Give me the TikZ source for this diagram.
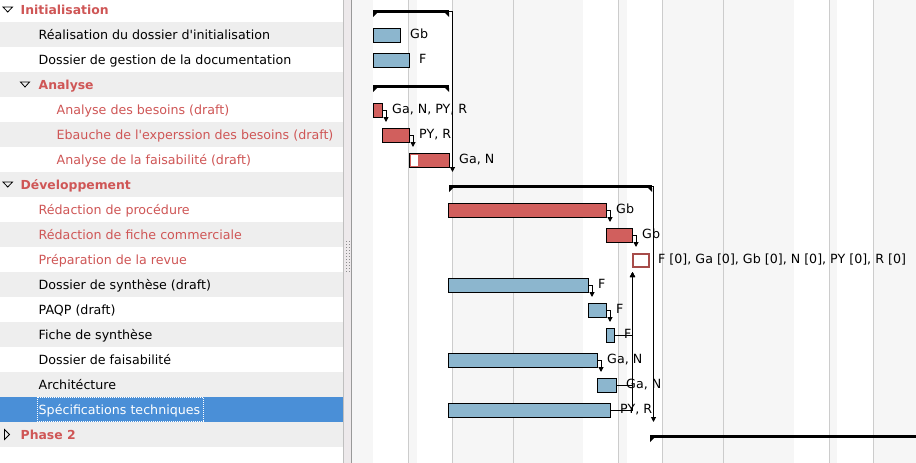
\documentclass[tikz,border=0pt]{standalone}
\usepackage{fontspec}
\setmainfont{DejaVu Sans}
\usetikzlibrary{calc,arrows.meta}
\definecolor{rowgray}{HTML}{EEEEEE}
\definecolor{chartgray}{HTML}{F6F6F6}
\definecolor{gridgray}{HTML}{CCCCCC}
\definecolor{selblue}{HTML}{4A8FD7}
\definecolor{taskred}{HTML}{CF5656}
\definecolor{barred}{HTML}{D15F5D}
\definecolor{barblue}{HTML}{8CB6CE}
\definecolor{splitgray}{HTML}{EDE9EB}

\begin{document}
\begin{tikzpicture}[x=1pt,y=-1pt,
  txt/.style={anchor=base west,inner sep=0pt,font=\fontsize{12.65}{14}\selectfont},
  redtxt/.style={txt,text=taskred},
  head/.style={txt,text=taskred,font=\fontsize{12.4}{14}\selectfont\bfseries},
  bluebar/.style={anchor=north west,draw=black,fill=barblue,line width=1pt,minimum height=14pt,inner sep=0pt,outer sep=0pt},
  redbar/.style={bluebar,fill=barred},
  summary/.style={anchor=north west,fill=black,minimum height=3pt,inner sep=0pt,outer sep=0pt},
  dep/.style={-{Triangle[length=5pt,width=5pt]},line width=1pt}]
\useasboundingbox (0,0) rectangle (916,463);

% tree panel
\fill[white] (0,0) rectangle (343,463);
\fill[rowgray] (0,22) rectangle (343,47);
\fill[rowgray] (0,72) rectangle (343,97);
\fill[rowgray] (0,122) rectangle (343,147);
\fill[rowgray] (0,172) rectangle (343,197);
\fill[rowgray] (0,222) rectangle (343,247);
\fill[rowgray] (0,272) rectangle (343,297);
\fill[rowgray] (0,322) rectangle (343,347);
\fill[rowgray] (0,372) rectangle (343,397);
\fill[selblue] (0,397) rectangle (343,422);
\fill[rowgray] (0,422) rectangle (343,447);

\draw[line width=0.8pt] (3,7) -- (12.5,7) -- (7.75,12) -- cycle;
\draw[line width=0.8pt] (20.5,82) -- (29.5,82) -- (25,87) -- cycle;
\draw[line width=0.8pt] (3,182) -- (12.5,182) -- (7.75,187) -- cycle;
\draw[line width=0.8pt] (4.5,429.5) -- (9.5,434.5) -- (4.5,439.5) -- cycle;

\node[head] (t0) at (20.5,14) {Initialisation};
\node[txt] (t1) at (38.5,39) {Réalisation du dossier d\textquotesingle initialisation};
\node[txt] (t2) at (38.5,64) {Dossier de gestion de la documentation};
\node[head] (t3) at (38.5,89) {Analyse};
\node[redtxt] (t4) at (56.5,114) {Analyse des besoins (draft)};
\node[redtxt] (t5) at (56.5,139) {Ebauche de l\textquotesingle experssion des besoins (draft)};
\node[redtxt] (t6) at (56.5,164) {Analyse de la faisabilité (draft)};
\node[head] (t7) at (20.5,189) {Développement};
\node[redtxt] (t8) at (38.5,214) {Rédaction de procédure};
\node[redtxt] (t9) at (38.5,239) {Rédaction de fiche commerciale};
\node[redtxt] (t10) at (38.5,264) {Préparation de la revue};
\node[txt] (t11) at (38.5,289) {Dossier de synthèse (draft)};
\node[txt] (t12) at (38.5,314) {PAQP (draft)};
\node[txt] (t13) at (38.5,339) {Fiche de synthèse};
\node[txt] (t14) at (38.5,364) {Dossier de faisabilité};
\node[txt] (t15) at (38.5,389) {Architécture};
\node[txt,text=white] (t16) at (38.5,414) {Spécifications techniques};
\node[head] (t17) at (20.5,439) {Phase 2};
\draw[white,dash pattern=on 1pt off 1pt] ($(t16.north west)+(-1.5,-6.5)$) rectangle ($(t16.south east)+(3,4)$);

% splitter
\fill[splitgray] (343,0) rectangle (351,463);
\draw[black!25] (343.5,0) -- (343.5,463);
\draw[black!40] (351.5,0) -- (351.5,463);
\foreach \gy in {241,244,...,271} {
  \fill[black!45] (346,\gy) rectangle ++(1,1);
  \fill[black!45] (349,\gy) rectangle ++(1,1);
}

% chart background
\fill[chartgray] (352,0) rectangle (916,463);
\fill[white] (373,0) rectangle (408,463);
\fill[white] (417,0) rectangle (452,463);
\fill[white] (583,0) rectangle (618,463);
\fill[white] (627,0) rectangle (662,463);
\fill[white] (794,0) rectangle (829,463);
\fill[white] (837,0) rectangle (873,463);
\draw[gridgray] (408.5,0) -- (408.5,463);
\draw[gridgray] (452.5,0) -- (452.5,463);
\draw[gridgray] (513.5,0) -- (513.5,463);
\draw[gridgray] (618.5,0) -- (618.5,463);
\draw[gridgray] (662.5,0) -- (662.5,463);
\draw[gridgray] (723.5,0) -- (723.5,463);
\draw[gridgray] (829.5,0) -- (829.5,463);
\draw[gridgray] (873.5,0) -- (873.5,463);

% summaries
\node[summary,minimum width=76pt] (s0) at (373,10) {};
\node[summary,minimum width=76pt] (s3) at (373,85) {};
\node[summary,minimum width=203pt] (s7) at (449,185) {};
\node[summary,minimum width=280pt] (s17) at (650,435) {};
\fill (s0.south west) -- ++(4,0) -- ++(-4,4) -- cycle;
\fill (s0.south east) -- ++(-4,0) -- ++(4,4) -- cycle;
\fill (s3.south west) -- ++(4,0) -- ++(-4,4) -- cycle;
\fill (s3.south east) -- ++(-4,0) -- ++(4,4) -- cycle;
\fill (s7.south west) -- ++(4,0) -- ++(-4,4) -- cycle;
\fill (s7.south east) -- ++(-4,0) -- ++(4,4) -- cycle;
\fill (s17.south west) -- ++(4,0) -- ++(-4,4) -- cycle;

% tasks
\node[bluebar,minimum width=27pt] (b1) at (373.5,28.5) {};
\node[bluebar,minimum width=36pt] (b2) at (373.5,53.5) {};
\node[redbar,minimum width=9pt] (b4) at (373.5,103.5) {};
\node[redbar,minimum width=27pt] (b5) at (382.5,128.5) {};
\node[redbar,minimum width=40pt] (b6) at (409.5,153.5) {};
\fill[white] ($(b6.north west)+(1,1.5)$) rectangle ($(b6.south west)+(8,-1.5)$);
\node[redbar,minimum width=158pt] (b8) at (448.5,203.5) {};
\node[redbar,minimum width=26pt] (b9) at (606.5,228.5) {};
\node[anchor=north west,draw=barred!80!black,fill=white,line width=2pt,outer sep=0pt,minimum width=16pt,minimum height=13pt,inner sep=0pt] (m10) at (633,254) {};
\node[bluebar,minimum width=140pt] (b11) at (448.5,278.5) {};
\node[bluebar,minimum width=18pt] (b12) at (588.5,303.5) {};
\node[bluebar,minimum width=8pt] (b13) at (606.5,328.5) {};
\node[bluebar,minimum width=149pt] (b14) at (448.5,353.5) {};
\node[bluebar,minimum width=19pt] (b15) at (597.5,378.5) {};
\node[bluebar,minimum width=162pt] (b16) at (448.5,403.5) {};

% resource labels
\node[txt] (l1) at ($(b1.north east)+(9.5,9.5)$) {Gb};
\node[txt] (l2) at ($(b2.north east)+(9.5,9.5)$) {F};
\node[txt] (l4) at ($(b4.north east)+(9.5,9.5)$) {Ga, N, PY, R};
\node[txt] (l5) at ($(b5.north east)+(9.5,9.5)$) {PY, R};
\node[txt] (l6) at ($(b6.north east)+(9.5,9.5)$) {Ga, N};
\node[txt] (l8) at ($(b8.north east)+(9.5,9.5)$) {Gb};
\node[txt] (l9) at ($(b9.north east)+(9.5,9.5)$) {Gb};
\node[txt] (l10) at ($(m10.north east)+(9,9)$) {F [0], Ga [0], Gb [0], N [0], PY [0], R [0]};
\node[txt] (l11) at ($(b11.north east)+(9.5,9.5)$) {F};
\node[txt] (l12) at ($(b12.north east)+(9.5,9.5)$) {F};
\node[txt] (l13) at ($(b13.north east)+(9.5,9.5)$) {F};
\node[txt] (l14) at ($(b14.north east)+(9.5,9.5)$) {Ga, N};
\node[txt] (l15) at ($(b15.north east)+(9.5,9.5)$) {Ga, N};
\node[txt] (l16) at ($(b16.north east)+(9.5,9.5)$) {PY, R};

% dependencies
\draw[dep] (s0.east) -| ($(s0.east |- s7.north)+(3.5,-13)$);
\draw[dep] (s7.east) -| ($(s7.east |- s17.north)+(1.5,-13)$);
\draw[dep] (b4.east) -| ($(b4.east |- b5.north)+(3.5,-6.5)$);
\draw[dep] (b5.east) -| ($(b5.east |- b6.north)+(3.5,-6.5)$);
\draw[dep] (b8.east) -| ($(b8.east |- b9.north)+(3.5,-6.5)$);
\draw[dep] (b9.east) -| ($(b9.east |- m10.north)+(3.5,-7)$);
\draw[dep] (b11.east) -| ($(b11.east |- b12.north)+(3.5,-6.5)$);
\draw[dep] (b12.east) -| ($(b12.east |- b13.north)+(3.5,-6.5)$);
\draw[dep] (b14.east) -| ($(b14.east |- b15.north)+(3.5,-6.5)$);
\draw[dep] (b13.east) -| ($(m10.south west)+(-0.5,5)$);
\draw[dep] (b15.east) -| ($(m10.south west)+(-0.5,5)$);
\draw[dep] (b16.east) -| ($(m10.south west)+(-0.5,5)$);

\end{tikzpicture}
\end{document}
